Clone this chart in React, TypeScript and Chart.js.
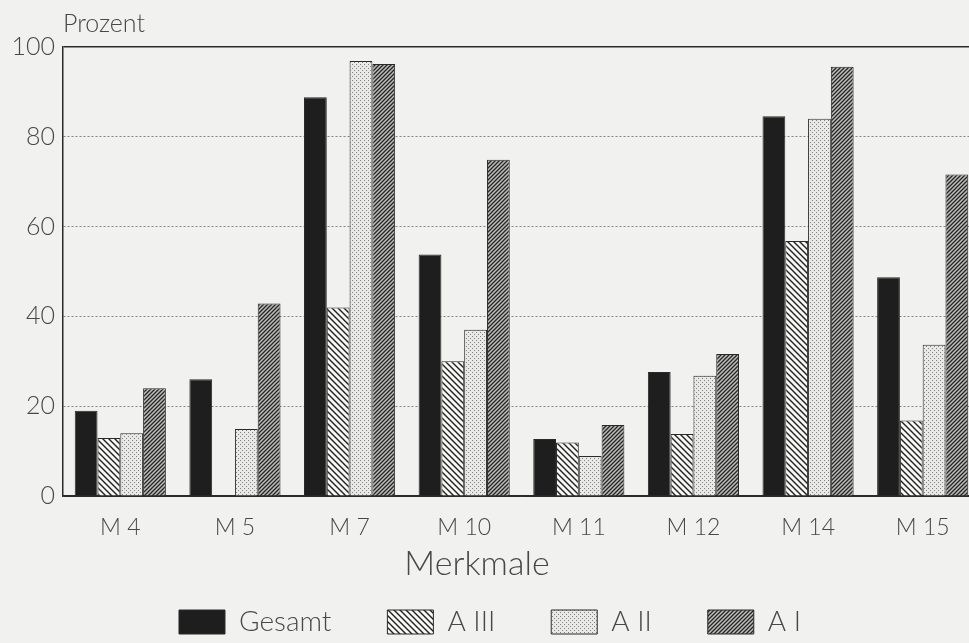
import React, { useEffect, useRef } from "react";
import { Chart, registerables } from "chart.js";

Chart.register(...registerables);

const categories = ["M 4", "M 5", "M 7", "M 10", "M 11", "M 12", "M 14", "M 15"];
const gesamt = [19, 26, 88.8, 53.8, 12.7, 27.6, 84.6, 48.7];
const aIII: (number | null)[] = [12.9, null, 42, 30, 11.9, 13.8, 56.8, 16.8];
const aII = [14, 14.9, 96.9, 37, 8.9, 26.8, 84, 33.7];
const aI = [24, 42.9, 96.2, 74.9, 15.8, 31.6, 95.6, 71.6];
const seriesNames = ["Gesamt", "A III", "A II", "A I"];
const yTicks = [0, 20, 40, 60, 80, 100];
const yTitle = "Prozent";
const xTitle = "Merkmale";

const FONT = 'Lato, "DejaVu Sans", sans-serif';
const INK = "#2a2a2a";
const TEXT = "#484848";

function hatch(ctx: CanvasRenderingContext2D, dir: "back" | "fwd", s: number, lw: number, fg: string, bg: string) {
  const c = document.createElement("canvas");
  c.width = s;
  c.height = s;
  const g = c.getContext("2d")!;
  g.fillStyle = bg;
  g.fillRect(0, 0, s, s);
  g.strokeStyle = fg;
  g.lineWidth = lw;
  g.beginPath();
  if (dir === "back") {
    g.moveTo(-1, -1);
    g.lineTo(s + 1, s + 1);
    g.moveTo(-1, s - 1);
    g.lineTo(1, s + 1);
    g.moveTo(s - 1, -1);
    g.lineTo(s + 1, 1);
  } else {
    g.moveTo(-1, s + 1);
    g.lineTo(s + 1, -1);
    g.moveTo(-1, 1);
    g.lineTo(1, -1);
    g.moveTo(s - 1, s + 1);
    g.lineTo(s + 1, s - 1);
  }
  g.stroke();
  return ctx.createPattern(c, "repeat")!;
}

function stipple(ctx: CanvasRenderingContext2D) {
  const s = 4;
  const c = document.createElement("canvas");
  c.width = s;
  c.height = s;
  const g = c.getContext("2d")!;
  g.fillStyle = "#e9e9e7";
  g.fillRect(0, 0, s, s);
  g.fillStyle = "#808080";
  g.fillRect(0, 0, 1, 1);
  g.fillRect(2, 2, 1, 1);
  return ctx.createPattern(c, "repeat")!;
}

const titlePlugin = {
  id: "axisTitles",
  afterDraw(chart: any) {
    const { ctx, chartArea } = chart;
    ctx.save();
    ctx.fillStyle = TEXT;
    ctx.textBaseline = "alphabetic";
    ctx.font = `300 25px ${FONT}`;
    ctx.textAlign = "left";
    ctx.fillText(yTitle, chartArea.left, chartArea.top - 15);
    ctx.font = `300 34px ${FONT}`;
    ctx.textAlign = "center";
    ctx.fillText(xTitle, 477, chartArea.bottom + 79);
    ctx.restore();
  },
};

export default function App() {
  const ref = useRef<HTMLCanvasElement | null>(null);

  useEffect(() => {
    const canvas = ref.current!;
    const ctx = canvas.getContext("2d")!;
    const fills = [
      "#1e1e1e",
      hatch(ctx, "back", 6, 1.4, "#222", "#f7f7f5"),
      stipple(ctx),
      hatch(ctx, "fwd", 4, 1.3, "#262626", "#bdbdbb"),
    ];
    const values = [gesamt, aIII, aII, aI];
    const chart = new Chart(canvas, {
      type: "bar",
      data: {
        labels: categories,
        datasets: values.map((v, i) => ({
          label: seriesNames[i],
          data: v,
          backgroundColor: fills[i] as any,
          borderColor: INK,
          borderWidth: 1,
          barPercentage: 1,
          categoryPercentage: 0.795,
        })),
      },
      options: {
        animation: false,
        responsive: true,
        maintainAspectRatio: false,
        layout: { padding: { left: 0, right: 10, top: 47, bottom: 0 } },
        plugins: {
          legend: {
            position: "bottom",
            labels: {
              boxWidth: 46,
              boxHeight: 24,
              padding: 56,
              color: TEXT,
              font: { family: FONT, size: 28, weight: "300" as any },
            },
          },
          tooltip: { enabled: false },
        },
        scales: {
          x: {
            grid: { display: false, drawTicks: false },
            border: { display: true, color: INK, width: 1.5 },
            ticks: { color: TEXT, padding: 18, font: { family: FONT, size: 23, weight: "300" as any } },
            afterFit: (s: any) => {
              s.height = 56;
            },
          },
          y: {
            min: 0,
            max: 100,
            afterBuildTicks: (s: any) => {
              s.ticks = yTicks.map((v) => ({ value: v }));
            },
            afterFit: (s: any) => {
              s.width = 63;
            },
            ticks: { color: TEXT, padding: 8, font: { family: FONT, size: 25, weight: "300" as any } },
            grid: {
              drawTicks: false,
              color: (c: any) => (c.tick && (c.tick.value === 100 || c.tick.value === 0) ? INK : "#858585"),
              lineWidth: (c: any) => (c.tick && c.tick.value === 100 ? 1.5 : 1),
            },
            border: {
              display: true,
              color: INK,
              width: 1.5,
              dash: (c: any) => (c.tick && c.tick.value > 0 && c.tick.value < 100 ? [2, 2] : []),
            },
          },
        },
      },
      plugins: [titlePlugin],
    });
    return () => chart.destroy();
  }, []);

  return (
    <div
      style={{
        position: "absolute",
        left: 0,
        top: 0,
        width: 969,
        height: 643,
        overflow: "hidden",
        background: "#f1f1ef",
      }}
    >
      <div style={{ position: "relative", width: 990, height: 646 }}>
        <canvas ref={ref} />
      </div>
    </div>
  );
}
